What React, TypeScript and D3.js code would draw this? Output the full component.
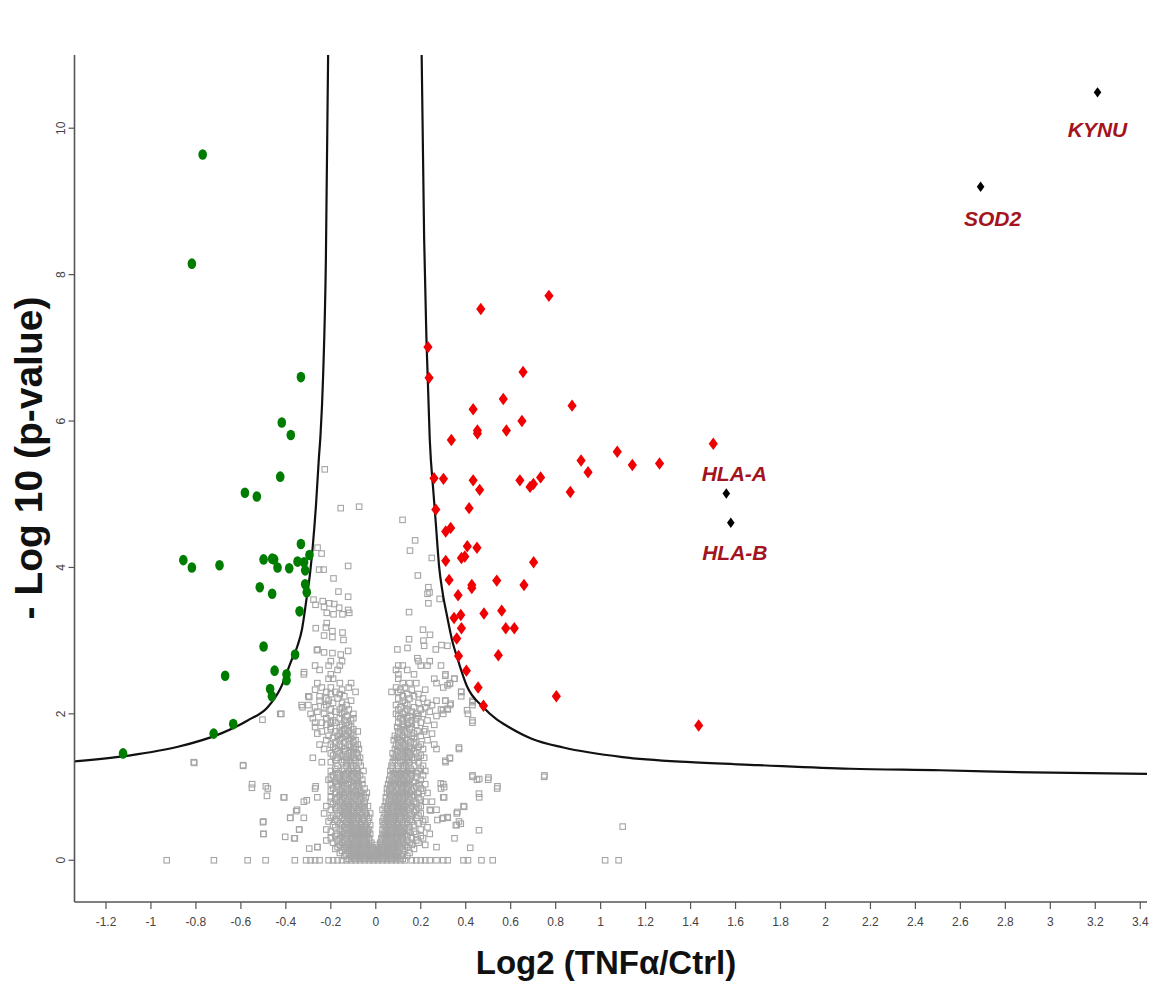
import React from "react";
import * as d3 from "d3";

const W = 1150;
const H = 987;

// ---------- DATA ----------
const xTickValues = [-1.2, -1, -0.8, -0.6, -0.4, -0.2, 0, 0.2, 0.4, 0.6, 0.8, 1, 1.2, 1.4, 1.6, 1.8, 2, 2.2, 2.4, 2.6, 2.8, 3, 3.2, 3.4];
const yTickValues = [0, 2, 4, 6, 8, 10];
const xTitle = "Log2 (TNFα/Ctrl)";
const yTitle = "- Log 10 (p-value)";

// Significantly down-regulated (green)
const downGenes: [number, number][] = [
  [-0.77, 9.64], [-0.818, 8.15], [-0.333, 6.6], [-0.418, 5.98], [-0.378, 5.81], [-0.425, 5.24],
  [-0.582, 5.02], [-0.529, 4.97], [-0.333, 4.32], [-0.856, 4.1], [-0.818, 4.0], [-0.695, 4.03],
  [-0.499, 4.11], [-0.461, 4.12], [-0.452, 4.11], [-0.437, 4.0], [-0.385, 3.99], [-0.348, 4.08],
  [-0.319, 4.07], [-0.295, 4.17], [-0.314, 3.96], [-0.516, 3.73], [-0.461, 3.64], [-0.314, 3.77],
  [-0.307, 3.66], [-0.339, 3.4], [-0.499, 2.92], [-0.359, 2.81], [-0.67, 2.52], [-0.45, 2.59],
  [-0.397, 2.54], [-0.397, 2.46], [-0.47, 2.34], [-0.462, 2.24], [-0.634, 1.86], [-0.721, 1.73],
  [-1.124, 1.46],
];

// Significantly up-regulated (red)
const upGenes: [number, number][] = [
  [0.77, 7.71], [0.467, 7.53], [0.232, 7.01], [0.237, 6.59], [0.655, 6.67], [0.567, 6.3],
  [0.873, 6.21], [0.433, 6.16], [0.65, 6.0], [0.452, 5.87], [0.452, 5.83], [0.581, 5.87],
  [0.336, 5.74], [1.501, 5.69], [1.074, 5.58], [0.913, 5.46], [0.944, 5.3], [1.141, 5.4],
  [1.262, 5.42], [0.259, 5.22], [0.301, 5.21], [0.433, 5.19], [0.462, 5.06], [0.641, 5.19],
  [0.686, 5.1], [0.701, 5.14], [0.733, 5.23], [0.865, 5.03], [0.267, 4.79], [0.415, 4.81],
  [0.311, 4.49], [0.333, 4.54], [0.407, 4.29], [0.45, 4.27], [0.311, 4.09], [0.381, 4.13],
  [0.396, 4.15], [0.702, 4.07], [0.326, 3.83], [0.427, 3.76], [0.427, 3.72], [0.538, 3.82],
  [0.659, 3.76], [0.366, 3.62], [0.481, 3.37], [0.56, 3.41], [0.348, 3.31], [0.378, 3.35],
  [0.381, 3.17], [0.36, 3.03], [0.578, 3.17], [0.616, 3.17], [0.368, 2.79], [0.545, 2.8],
  [0.403, 2.59], [0.455, 2.36], [0.479, 2.11], [0.803, 2.24], [1.436, 1.84],
];

// Highlighted genes (black)
const highlightNames = ["KYNU", "SOD2", "HLA-A", "HLA-B"];
const highlightX = [3.21, 2.69, 1.559, 1.579];
const highlightY = [10.49, 9.2, 5.01, 4.61];

// Threshold curves
const curveLeft: [number, number][] = [
  [-1.34, 1.35], [-1.1, 1.43], [-0.88, 1.55], [-0.69, 1.73], [-0.57, 1.91], [-0.481, 2.09],
  [-0.422, 2.36], [-0.375, 2.73], [-0.348, 2.93], [-0.328, 3.16], [-0.309, 3.55], [-0.292, 3.93],
  [-0.28, 4.3], [-0.266, 4.85], [-0.253, 5.5], [-0.246, 5.8], [-0.234, 6.64], [-0.222, 8.2],
  [-0.212, 11.0],
];
const curveRight: [number, number][] = [
  [0.204, 11.0], [0.215, 8.5], [0.226, 7.05], [0.24, 5.75], [0.257, 5.0], [0.267, 4.6],
  [0.282, 4.0], [0.296, 3.68], [0.318, 3.32], [0.34, 3.0], [0.364, 2.75], [0.405, 2.38],
  [0.478, 2.09], [0.535, 1.93], [0.591, 1.82], [0.693, 1.66], [0.834, 1.54], [1.097, 1.41],
  [1.4, 1.34], [1.7, 1.3], [2.11, 1.25], [2.51, 1.23], [2.92, 1.2], [3.43, 1.18],
];

// Non-significant proteins (grey), dense part listed by row: [-log10 p, log2 ratios]
const greyRows: [number, number[]][] = [
  [0.0, [-0.93, -0.72, -0.57, -0.49, -0.36, -0.31, -0.29, -0.27, -0.25, -0.21, -0.19, -0.17, -0.15, -0.13, -0.11, -0.09, -0.07, -0.05, -0.03, -0.01, 0.01, 0.03, 0.05, 0.07, 0.09, 0.11, 0.13, 0.16, 0.18, 0.2, 0.22, 0.24, 0.27, 0.3, 0.32, 0.39, 0.41, 0.47, 0.52, 1.02, 1.08]],
  [0.02, [-0.12, -0.09, -0.07, -0.05, -0.03, -0.01, 0.01, 0.03, 0.05, 0.07, 0.09, 0.12]],
  [0.04, [-0.1, -0.08, -0.06, -0.04, -0.02, 0.0, 0.02, 0.04, 0.06, 0.08, 0.1]],
  [0.06, [-0.14, -0.11, -0.09, -0.06, -0.03, -0.01, 0.01, 0.03, 0.06, 0.09, 0.11, 0.14]],
  [0.08, [-0.13, -0.11, -0.09, -0.07, -0.05, -0.03, -0.01, 0.01, 0.03, 0.05, 0.07, 0.09, 0.12]],
  [0.1, [-0.16, -0.12, -0.1, -0.08, -0.06, -0.04, -0.02, 0.0, 0.02, 0.04, 0.06, 0.08, 0.1, 0.15]],
  [0.13, [-0.15, -0.12, -0.1, -0.08, -0.06, -0.04, -0.02, 0.0, 0.02, 0.04, 0.06, 0.08, 0.1, 0.13]],
  [0.155, [-0.18, -0.13, -0.11, -0.09, -0.07, -0.05, -0.03, -0.01, 0.01, 0.03, 0.05, 0.07, 0.09, 0.12, 0.17]],
  [0.18, [-0.26, -0.17, -0.14, -0.12, -0.1, -0.08, -0.06, -0.04, -0.02, 0.01, 0.03, 0.05, 0.07, 0.09, 0.11, 0.14, 0.27]],
  [0.21, [-0.16, -0.13, -0.11, -0.09, -0.07, -0.05, -0.03, 0.0, 0.02, 0.04, 0.06, 0.08, 0.1, 0.13, 0.16, 0.22]],
  [0.24, [-0.19, -0.15, -0.12, -0.1, -0.08, -0.06, -0.04, -0.02, 0.02, 0.04, 0.06, 0.08, 0.1, 0.12, 0.15, 0.19]],
  [0.27, [-0.22, -0.17, -0.14, -0.11, -0.09, -0.07, -0.05, -0.03, 0.03, 0.05, 0.07, 0.09, 0.11, 0.14, 0.18]],
  [0.3, [-0.36, -0.2, -0.16, -0.13, -0.11, -0.09, -0.07, -0.05, -0.03, 0.025, 0.045, 0.065, 0.085, 0.1, 0.12, 0.16, 0.21, 0.35]],
  [0.33, [-0.18, -0.15, -0.13, -0.1, -0.08, -0.06, -0.04, 0.035, 0.055, 0.075, 0.095, 0.115, 0.14, 0.2]],
  [0.36, [-0.5, -0.17, -0.14, -0.12, -0.1, -0.08, -0.06, -0.04, -0.025, 0.03, 0.05, 0.07, 0.09, 0.11, 0.13, 0.18, 0.24]],
  [0.39, [-0.2, -0.15, -0.11, -0.09, -0.07, -0.05, -0.035, 0.04, 0.06, 0.08, 0.1, 0.12, 0.15, 0.17]],
  [0.42, [-0.34, -0.22, -0.16, -0.13, -0.11, -0.09, -0.07, -0.05, -0.03, 0.03, 0.05, 0.07, 0.09, 0.11, 0.14, 0.2]],
  [0.45, [-0.18, -0.14, -0.12, -0.1, -0.08, -0.06, -0.04, 0.045, 0.065, 0.085, 0.105, 0.125, 0.15, 0.23]],
  [0.48, [-0.19, -0.15, -0.12, -0.1, -0.085, -0.065, -0.045, -0.025, 0.035, 0.055, 0.075, 0.095, 0.115, 0.13, 0.17, 0.36]],
  [0.505, [-0.16, -0.13, -0.11, -0.09, -0.07, -0.05, 0.04, 0.06, 0.08, 0.1, 0.12, 0.14, 0.19]],
  [0.53, [-0.5, -0.21, -0.17, -0.13, -0.11, -0.09, -0.06, -0.035, 0.03, 0.05, 0.07, 0.09, 0.12, 0.16, 0.21, 0.37]],
  [0.555, [-0.18, -0.14, -0.12, -0.1, -0.075, -0.055, 0.045, 0.065, 0.085, 0.1, 0.13, 0.15, 0.22]],
  [0.58, [-0.38, -0.32, -0.2, -0.15, -0.12, -0.1, -0.08, -0.05, -0.03, 0.035, 0.055, 0.08, 0.11, 0.14, 0.18, 0.3, 0.32]],
  [0.61, [-0.19, -0.16, -0.13, -0.11, -0.09, -0.06, -0.04, 0.05, 0.07, 0.09, 0.11, 0.13, 0.16, 0.19]],
  [0.64, [-0.23, -0.17, -0.14, -0.12, -0.1, -0.07, -0.045, -0.025, 0.04, 0.06, 0.08, 0.1, 0.12, 0.15, 0.2, 0.36]],
  [0.665, [-0.15, -0.13, -0.1, -0.085, -0.06, 0.05, 0.07, 0.09, 0.11, 0.13, 0.17]],
  [0.69, [-0.35, -0.2, -0.16, -0.13, -0.11, -0.08, -0.05, 0.03, 0.055, 0.08, 0.1, 0.12, 0.14, 0.18, 0.24, 0.27]],
  [0.715, [-0.18, -0.14, -0.12, -0.1, -0.07, -0.05, 0.05, 0.07, 0.1, 0.12, 0.15, 0.19]],
  [0.74, [-0.22, -0.17, -0.14, -0.12, -0.09, -0.06, -0.035, 0.04, 0.065, 0.09, 0.11, 0.13, 0.16, 0.2, 0.39]],
  [0.77, [-0.19, -0.15, -0.13, -0.1, -0.075, -0.05, 0.055, 0.08, 0.1, 0.12, 0.145, 0.18]],
  [0.8, [-0.32, -0.2, -0.16, -0.13, -0.11, -0.08, -0.05, 0.045, 0.07, 0.09, 0.11, 0.14, 0.17, 0.22, 0.25]],
  [0.83, [-0.18, -0.15, -0.12, -0.09, -0.065, 0.06, 0.085, 0.1, 0.12, 0.15, 0.2]],
  [0.86, [-0.41, -0.26, -0.2, -0.17, -0.14, -0.1, -0.07, -0.045, 0.045, 0.075, 0.105, 0.13, 0.16, 0.19, 0.3, 0.46]],
  [0.89, [-0.16, -0.14, -0.11, -0.085, -0.055, 0.065, 0.09, 0.12, 0.14, 0.17]],
  [0.92, [-0.18, -0.15, -0.13, -0.1, -0.065, -0.04, 0.05, 0.08, 0.11, 0.13, 0.15, 0.19, 0.23]],
  [0.95, [-0.2, -0.16, -0.12, -0.09, -0.07, 0.06, 0.09, 0.115, 0.135, 0.16, 0.21]],
  [0.98, [-0.48, -0.27, -0.19, -0.15, -0.13, -0.11, -0.08, -0.05, 0.05, 0.07, 0.1, 0.12, 0.14, 0.17, 0.2, 0.29, 0.54]],
  [1.01, [-0.17, -0.14, -0.1, -0.075, 0.065, 0.09, 0.12, 0.14, 0.18]],
  [1.04, [-0.55, -0.2, -0.17, -0.15, -0.12, -0.085, -0.06, 0.055, 0.08, 0.11, 0.13, 0.15, 0.19, 0.22, 0.3]],
  [1.07, [-0.18, -0.15, -0.11, -0.08, 0.07, 0.1, 0.125, 0.14, 0.17]],
  [1.1, [-0.21, -0.16, -0.14, -0.12, -0.09, -0.06, 0.06, 0.085, 0.1, 0.12, 0.15, 0.2, 0.45, 0.5]],
  [1.13, [-0.2, -0.17, -0.13, -0.1, -0.08, 0.075, 0.1, 0.115, 0.14, 0.18]],
  [1.16, [-0.19, -0.16, -0.14, -0.11, -0.07, 0.065, 0.095, 0.11, 0.13, 0.16, 0.21, 0.43, 0.75]],
  [1.19, [-0.17, -0.13, -0.1, -0.085, 0.08, 0.105, 0.13, 0.15, 0.18]],
  [1.22, [-0.2, -0.15, -0.12, -0.1, -0.08, -0.055, 0.065, 0.09, 0.12, 0.14, 0.16, 0.19, 0.22]],
  [1.25, [-0.18, -0.14, -0.11, -0.085, 0.075, 0.1, 0.125, 0.155, 0.2]],
  [1.29, [-0.59, -0.17, -0.13, -0.11, -0.1, -0.067, 0.07, 0.1, 0.12, 0.135, 0.17, 0.21]],
  [1.34, [-0.81, -0.24, -0.2, -0.15, -0.13, -0.11, -0.075, 0.075, 0.11, 0.13, 0.15, 0.19, 0.31]],
  [1.37, [-0.18, -0.14, -0.12, -0.09, 0.085, 0.12, 0.14, 0.17]],
  [1.4, [-0.28, -0.17, -0.13, -0.1, -0.07, 0.08, 0.1, 0.14, 0.16, 0.185, 0.215, 0.33]],
  [1.43, [-0.19, -0.15, -0.11, -0.08, 0.09, 0.12, 0.15, 0.2]],
  [1.46, [-0.2, -0.16, -0.12, -0.1, -0.085, 0.075, 0.11, 0.13, 0.15, 0.18]],
  [1.49, [-0.17, -0.14, -0.11, 0.095, 0.12, 0.14, 0.17]],
  [1.52, [-0.23, -0.18, -0.14, -0.1, -0.075, 0.085, 0.12, 0.16, 0.21, 0.27, 0.37]],
  [1.55, [-0.19, -0.15, -0.11, -0.09, 0.1, 0.13, 0.15, 0.19]],
  [1.58, [-0.25, -0.2, -0.16, -0.12, -0.08, 0.09, 0.13, 0.17, 0.2, 0.26]],
  [1.61, [-0.18, -0.14, -0.1, 0.1, 0.12, 0.155, 0.18]],
  [1.64, [-0.22, -0.16, -0.12, -0.09, 0.08, 0.11, 0.14, 0.23]],
  [1.67, [-0.19, -0.15, -0.11, 0.095, 0.13, 0.17]],
  [1.7, [-0.21, -0.17, -0.13, -0.1, 0.085, 0.12, 0.16, 0.2]],
  [1.73, [-0.26, -0.16, -0.14, -0.11, 0.1, 0.14, 0.17, 0.25]],
  [1.76, [-0.24, -0.18, -0.15, -0.12, -0.08, 0.1, 0.13, 0.185, 0.215]],
  [1.79, [-0.2, -0.14, -0.1, 0.11, 0.15, 0.22]],
  [1.82, [-0.27, -0.2, -0.16, -0.11, 0.095, 0.125, 0.16]],
  [1.85, [-0.22, -0.15, -0.12, 0.12, 0.14, 0.18, 0.26]],
  [1.88, [-0.27, -0.24, -0.2, -0.18, -0.13, 0.1, 0.15, 0.2, 0.43]],
  [1.91, [-0.19, -0.14, -0.11, 0.12, 0.16, 0.23]],
  [1.94, [-0.28, -0.22, -0.16, -0.1, 0.11, 0.14, 0.18]],
  [1.97, [-0.2, -0.13, 0.1, 0.15, 0.19, 0.27]],
  [2.0, [-0.42, -0.29, -0.23, -0.15, -0.1, 0.09, 0.12, 0.18, 0.21, 0.3, 0.41]],
  [2.03, [-0.26, -0.18, -0.14, 0.13, 0.16, 0.24]],
  [2.06, [-0.2, -0.16, -0.12, 0.1, 0.14, 0.2, 0.29, 0.32]],
  [2.09, [-0.27, -0.23, -0.15, 0.11, 0.17, 0.22]],
  [2.12, [-0.33, -0.3, -0.22, -0.13, 0.09, 0.14, 0.25, 0.33, 0.43]],
  [2.15, [-0.19, -0.15, 0.13, 0.19, 0.23]],
  [2.18, [-0.25, -0.21, -0.11, 0.12, 0.27, 0.31, 0.43]],
  [2.21, [-0.22, -0.17, 0.1, 0.15, 0.21]],
  [2.24, [-0.3, -0.25, -0.14, 0.12, 0.17, 0.38]],
  [2.27, [-0.2, -0.16, 0.14, 0.19]],
  [2.3, [-0.22, -0.18, -0.09, 0.07, 0.1, 0.38]],
  [2.33, [-0.27, -0.15, 0.11, 0.16, 0.22]],
  [2.36, [-0.24, -0.2, -0.12, 0.09, 0.13, 0.3]],
  [2.42, [-0.26, -0.16, -0.11, 0.12, 0.15, 0.18, 0.27, 0.33]],
  [2.48, [-0.21, -0.19, 0.1, 0.26, 0.35]],
  [2.54, [-0.32, -0.2, 0.1, 0.17, 0.31]],
  [2.6, [-0.25, -0.17, 0.09, 0.14]],
  [2.66, [-0.27, -0.21, -0.16, 0.1, 0.12, 0.2, 0.23, 0.29]],
  [2.72, [-0.2, -0.15, 0.19, 0.24]],
];

// Non-significant proteins (grey), scattered ones
const greySparse: [number, number][] = [
  [-0.227, 5.34], [-0.156, 4.81], [-0.074, 4.83], [0.119, 4.65], [0.175, 4.37], [0.152, 4.23],
  [0.249, 4.13], [-0.259, 4.27], [-0.241, 4.19], [-0.252, 3.97], [-0.232, 3.97], [-0.123, 4.02],
  [-0.188, 3.85], [0.187, 3.89], [-0.166, 3.67], [-0.123, 3.6], [0.234, 3.73], [0.239, 3.66],
  [0.23, 3.64], [0.284, 3.57], [-0.277, 3.56], [-0.268, 3.49], [-0.236, 3.54], [-0.207, 3.51],
  [-0.185, 3.5], [-0.163, 3.45], [-0.123, 3.42], [-0.118, 3.38], [-0.23, 3.46], [-0.218, 3.38],
  [-0.188, 3.36], [-0.148, 3.36], [0.234, 3.51], [0.148, 3.39], [-0.218, 3.24], [-0.222, 3.18],
  [-0.267, 3.17], [-0.193, 3.13], [-0.148, 3.11], [-0.23, 3.07], [-0.193, 3.05], [-0.144, 3.01],
  [0.21, 3.15], [0.241, 3.08], [0.148, 3.02], [0.212, 3.0], [0.215, 2.93], [-0.262, 2.87],
  [-0.23, 2.84], [-0.193, 2.83], [-0.156, 2.81], [-0.123, 2.86], [0.096, 2.88], [0.141, 2.9],
  [0.267, 2.88], [0.292, 2.94], [0.319, 2.93], [0.185, 2.76], [-0.259, 2.88], [-0.319, 2.57],
  [-0.296, 2.23], [-0.326, 2.09], [-0.807, 1.33], [-0.59, 1.3], [-0.504, 1.92], [-0.425, 2.0],
  [-0.551, 0.99], [-0.489, 1.01], [-0.484, 0.88], [-0.407, 0.86], [-0.307, 0.82], [-0.267, 1.01],
  [-0.502, 0.52], [-0.499, 0.36], [-0.381, 0.58], [-0.354, 0.67], [-0.341, 0.42], [-0.403, 0.32],
  [-0.363, 0.3], [-0.296, 0.16], [-0.259, 0.18], [0.309, 2.52], [0.349, 2.48], [0.329, 2.41],
  [0.319, 2.39], [0.38, 2.3], [0.309, 2.18], [0.333, 2.14], [0.319, 2.07], [0.299, 2.05],
  [0.406, 2.05], [0.43, 2.16], [0.43, 1.91], [0.37, 1.54], [0.329, 1.39], [0.309, 1.36],
  [0.43, 1.14], [0.46, 1.11], [0.501, 1.13], [0.541, 1.01], [0.749, 1.14], [1.098, 0.46],
  [0.363, 0.66], [0.378, 0.5], [0.393, 0.73], [0.356, 0.48], [0.459, 0.41], [0.42, 0.17],
  [0.289, 1.05], [0.304, 1.0], [0.304, 0.86], [0.459, 0.91], [0.274, 0.55], [0.296, 0.57],
  [0.319, 0.59], [0.244, 0.68],
];

// ---------- LAYOUT / STYLE ----------
const plot = { left: 74.5, right: 1147, top: 55, bottom: 902 };
const xScale = d3.scaleLinear().domain([-1.34, 3.43]).range([plot.left, plot.right]);
const yScale = d3.scaleLinear().domain([-0.57, 11]).range([plot.bottom, plot.top]);

const labelOffset: Record<string, [number, number]> = {
  KYNU: [0, 45],
  SOD2: [12, 39],
  "HLA-A": [8, -13],
  "HLA-B": [4, 37],
};

const fmt = (v: number) => String(+v.toFixed(1));

function diamond(cx: number, cy: number, w: number, h: number) {
  return `M${cx},${cy - h}L${cx + w},${cy}L${cx},${cy + h}L${cx - w},${cy}Z`;
}

export default function App() {
  const line = d3
    .line<[number, number]>()
    .x((d) => xScale(d[0]))
    .y((d) => yScale(d[1]))
    .curve(d3.curveMonotoneX);

  const greyPoints: [number, number][] = [];
  greyRows.forEach(([y, xs]) => xs.forEach((x) => greyPoints.push([x, y])));
  greySparse.forEach((p) => greyPoints.push(p));

  const sq = 5.5;
  const tickFont = "'Liberation Sans', Arial, sans-serif";

  return (
    <div style={{ position: "absolute", left: 0, top: 0 }}>
      <svg width={W} height={H} style={{ display: "block", background: "#fff" }}>
        <defs>
          <clipPath id="plotClip">
            <rect x={plot.left} y={plot.top} width={plot.right - plot.left + 2} height={plot.bottom - plot.top} />
          </clipPath>
        </defs>
        <rect x={0} y={0} width={W} height={H} fill="#fff" />

        {/* grey non-significant */}
        <g>
          {greyPoints.map(([x, y], i) => (
            <rect
              key={"g" + i}
              x={xScale(x) - sq / 2}
              y={yScale(y) - sq / 2}
              width={sq}
              height={sq}
              fill="none"
              stroke="#a5a5a5"
              strokeWidth={1.1}
            />
          ))}
        </g>

        {/* threshold curves */}
        <g clipPath="url(#plotClip)">
          <path d={line(curveLeft) || ""} fill="none" stroke="#111" strokeWidth={2.2} />
          <path d={line(curveRight) || ""} fill="none" stroke="#111" strokeWidth={2.2} />
        </g>

        {/* green down */}
        <g>
          {downGenes.map(([x, y], i) => (
            <ellipse key={"d" + i} cx={xScale(x)} cy={yScale(y)} rx={4.3} ry={5.3} fill="#007d00" />
          ))}
        </g>

        {/* red up */}
        <g>
          {upGenes.map(([x, y], i) => (
            <path key={"u" + i} d={diamond(xScale(x), yScale(y), 4.6, 6.2)} fill="#f00000" />
          ))}
        </g>

        {/* highlighted */}
        <g>
          {highlightNames.map((name, i) => {
            const cx = xScale(highlightX[i]);
            const cy = yScale(highlightY[i]);
            const [dx, dy] = labelOffset[name];
            return (
              <g key={name}>
                <path d={diamond(cx, cy, 3.8, 5.2)} fill="#000" />
                <text
                  x={cx + dx}
                  y={cy + dy}
                  textAnchor="middle"
                  fontFamily="'Liberation Sans', Arial, sans-serif"
                  fontWeight="bold"
                  fontStyle="italic"
                  fontSize={21}
                  fill="#a3141e"
                >
                  {name}
                </text>
              </g>
            );
          })}
        </g>

        {/* axes */}
        <line x1={plot.left} x2={plot.left} y1={plot.top} y2={plot.bottom} stroke="#555" strokeWidth={1.6} />
        <line x1={plot.left} x2={plot.right} y1={plot.bottom} y2={plot.bottom} stroke="#555" strokeWidth={1.6} />
        {xTickValues.map((v) => (
          <g key={"xt" + v} transform={`translate(${xScale(v)},${plot.bottom})`}>
            <line y1={0} y2={7} stroke="#555" strokeWidth={1.2} />
            <text y={24} textAnchor="middle" fontFamily={tickFont} fontSize={12} fill="#444">
              {fmt(v)}
            </text>
          </g>
        ))}
        {yTickValues.map((v) => (
          <g key={"yt" + v} transform={`translate(${plot.left},${yScale(v)})`}>
            <line x1={0} x2={-6} stroke="#555" strokeWidth={1.2} />
            <text
              transform="translate(-10,0) rotate(-90)"
              textAnchor="middle"
              fontFamily={tickFont}
              fontSize={12}
              fill="#444"
            >
              {fmt(v)}
            </text>
          </g>
        ))}

        {/* axis titles */}
        <text
          x={606}
          y={974}
          textAnchor="middle"
          fontFamily="'Liberation Sans', Arial, sans-serif"
          fontWeight="bold"
          fontSize={33}
          fill="#111"
        >
          {xTitle}
        </text>
        <text
          transform={`translate(42,458) rotate(-90)`}
          textAnchor="middle"
          fontFamily="'Liberation Sans', Arial, sans-serif"
          fontWeight="bold"
          fontSize={39}
          fill="#111"
        >
          {yTitle}
        </text>
      </svg>
    </div>
  );
}
